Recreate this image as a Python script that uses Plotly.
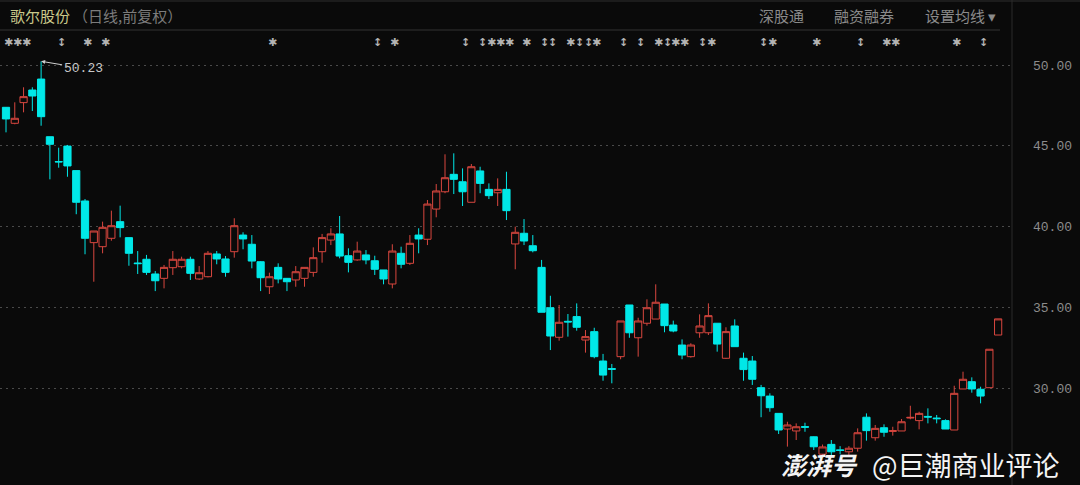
import plotly.graph_objects as go

# ---------------- data ----------------
opens = [47.38, 46.39, 47.67, 48.45, 49.13, 45.56, 44.02, 44.98, 43.46, 41.58,
         39.00, 38.75, 39.27, 40.30, 39.31, 37.74, 37.97, 37.06, 36.79, 37.45,
         37.51, 37.97, 36.75, 36.89, 38.30, 37.99, 38.44, 39.47, 38.90, 37.82,
         36.27, 37.47, 36.79, 36.69, 36.79, 37.16, 38.44, 39.16, 39.54, 38.19,
         37.93, 38.24, 37.88, 37.31, 36.44, 38.34, 37.72, 39.47, 39.21, 41.08,
         42.15, 43.23, 42.77, 41.50, 43.44, 42.30, 42.09, 42.30, 38.92, 39.58,
         38.81, 37.47, 34.97, 33.14, 34.13, 34.42, 32.97, 33.49, 31.67, 31.20,
         31.94, 35.14, 33.11, 34.01, 34.27, 35.20, 33.90, 32.66, 31.94, 33.42,
         33.42, 34.01, 31.84, 33.84, 31.84, 31.67, 30.02, 29.50, 28.43, 27.46,
         27.34, 27.61, 26.98, 25.90, 26.51, 26.17, 26.05, 26.27, 28.19, 26.92,
         27.54, 27.31, 27.34, 28.14, 27.98, 28.24, 28.14, 27.98, 27.40, 29.94,
         30.39, 29.92, 30.02, 33.28]
highs = [47.40, 47.69, 48.62, 48.62, 50.23, 45.56, 44.88, 45.05, 43.46, 41.70,
         39.72, 40.30, 40.98, 41.29, 39.31, 38.48, 38.24, 37.24, 37.62, 38.48,
         38.13, 38.13, 37.55, 38.48, 38.48, 38.17, 40.51, 39.64, 39.47, 37.85,
         37.14, 37.72, 36.79, 37.55, 37.47, 38.71, 39.54, 39.89, 40.65, 38.65,
         39.06, 38.54, 38.19, 37.31, 38.90, 38.75, 39.47, 39.89, 41.64, 42.63,
         44.47, 44.53, 43.60, 43.87, 43.70, 42.67, 42.98, 43.39, 39.99, 40.46,
         39.47, 37.93, 35.71, 35.14, 34.58, 35.24, 33.59, 33.73, 32.11, 31.49,
         34.15, 35.14, 34.35, 35.49, 36.42, 35.20, 34.17, 33.01, 32.77, 34.56,
         35.24, 34.01, 33.76, 34.25, 32.19, 31.98, 30.19, 29.67, 28.43, 27.91,
         27.81, 27.85, 27.00, 26.50, 26.78, 26.40, 26.40, 27.50, 28.43, 27.71,
         27.75, 27.60, 28.08, 28.90, 28.53, 28.74, 28.33, 28.06, 30.14, 31.01,
         30.66, 30.08, 32.40, 34.28]
lows = [45.83, 46.33, 47.07, 47.15, 46.24, 42.92, 43.64, 43.08, 40.76, 38.28,
        36.58, 38.34, 39.12, 39.33, 37.57, 37.06, 37.00, 36.00, 36.17, 37.00,
        37.41, 36.69, 36.69, 36.85, 37.66, 36.89, 38.07, 38.59, 37.41, 36.00,
        35.82, 36.48, 36.00, 36.27, 36.27, 36.89, 37.76, 38.85, 38.03, 37.16,
        37.88, 37.66, 37.00, 36.42, 36.17, 37.41, 37.62, 38.34, 38.85, 40.57,
        42.06, 42.01, 41.27, 41.50, 42.06, 41.70, 41.27, 40.40, 37.35, 38.85,
        38.40, 34.69, 32.35, 32.93, 33.18, 33.55, 32.19, 31.84, 30.45, 30.29,
        31.78, 33.11, 31.94, 33.86, 34.27, 33.45, 33.45, 31.78, 31.88, 33.11,
        33.28, 32.25, 31.80, 32.56, 30.45, 30.19, 28.19, 28.53, 27.15, 26.37,
        26.78, 27.29, 26.16, 25.70, 25.80, 25.90, 25.85, 26.06, 26.74, 26.74,
        26.98, 27.05, 27.34, 28.06, 27.44, 27.81, 27.81, 27.46, 27.40, 29.94,
        29.71, 29.05, 30.02, 33.28]
closes = [46.66, 46.70, 48.04, 48.08, 46.80, 45.09, 44.00, 43.75, 41.50, 39.27,
          39.72, 39.95, 40.05, 39.93, 38.34, 37.70, 37.16, 36.64, 37.47, 37.97,
          37.97, 37.10, 37.14, 38.34, 37.99, 37.16, 40.05, 39.23, 37.86, 36.83,
          36.89, 36.75, 36.58, 37.20, 37.47, 38.07, 39.31, 39.54, 38.17, 37.78,
          38.48, 37.93, 37.35, 36.75, 38.48, 37.66, 38.96, 39.23, 41.39, 42.20,
          43.02, 42.92, 42.15, 43.70, 42.67, 41.91, 42.30, 40.98, 39.64, 39.10,
          38.50, 34.69, 33.22, 34.07, 34.09, 33.76, 33.18, 31.94, 30.80, 31.16,
          34.15, 33.42, 34.15, 34.97, 35.31, 33.86, 33.53, 32.04, 32.66, 33.84,
          34.48, 32.72, 33.49, 32.56, 31.14, 30.54, 29.52, 28.78, 27.40, 27.71,
          27.60, 27.57, 26.36, 26.35, 26.05, 26.13, 26.27, 27.23, 27.36, 27.50,
          27.26, 27.36, 27.91, 28.18, 28.43, 28.20, 28.10, 27.46, 29.67, 30.54,
          29.94, 29.50, 32.40, 34.28]
days = list(range(1, len(opens) + 1))

y_ticks = [30, 35, 40, 45, 50]
y_tick_labels = ["30.00", "35.00", "40.00", "45.00", "50.00"]

# event markers shown above the candles: (candle index, symbol)
marker_days = [1, 2, 3, 7, 10, 12, 31, 43, 45, 53, 55, 56, 57, 58, 60, 62, 63,
               65, 66, 67, 68, 71, 73, 75, 76, 77, 78, 80, 81, 87, 88, 93, 98,
               101, 102, 109, 112]
marker_syms = ["✱", "✱", "✱", "↕", "✱", "✱", "✱", "↕", "✱", "↕", "↕", "✱", "✱", "✱", "✱", "↕", "↕",
               "✱", "↕", "↕", "✱", "↕", "↕", "✱", "↕", "✱", "✱", "↕", "✱", "↕", "✱", "✱", "↕",
               "✱", "✱", "✱", "↕"]

high_label = "50.23"
high_day = 5

# ---------------- geometry / styling ----------------
W, H = 1080, 485
PLOT_W = 1012
BG = "#0a0a0a"
RED = "#d9473f"
CYAN = "#00e8e8"

def pxx(x):
    return x / PLOT_W

def pyy(y):
    return 1 - y / H

# price <-> pixel: 50.00 at y=65, 16.15 px per unit
y_top = 50 + 65 / 16.15
y_bot = 50 - (H - 65) / 16.15
# candle i at pixel 6 + 8.78*(i-1)
x_left = 1 - 6 / 8.78
x_right = 1 + (PLOT_W - 6) / 8.78

fig = go.Figure()
fig.add_trace(go.Candlestick(
    x=days, open=opens, high=highs, low=lows, close=closes,
    increasing=dict(line=dict(color=RED, width=1), fillcolor=BG),
    decreasing=dict(line=dict(color=CYAN, width=1), fillcolor=CYAN),
    whiskerwidth=0, showlegend=False, hoverinfo="skip",
))

annotations = []
# header
annotations.append(dict(x=pxx(8), y=pyy(16), xref="paper", yref="paper", xanchor="left",
                        yanchor="middle", showarrow=False, text="歌尔股份",
                        font=dict(family="Noto Sans CJK SC", size=15, color="#c9c98a")))
annotations.append(dict(x=pxx(71), y=pyy(16), xref="paper", yref="paper", xanchor="left",
                        yanchor="middle", showarrow=False, text="（日线,前复权）",
                        font=dict(family="Noto Sans CJK SC", size=15, color="#7c7c7c")))
for label, cx in [("深股通", 781), ("融资融券", 864), ("设置均线 ▾", 960)]:
    annotations.append(dict(x=pxx(cx), y=pyy(16), xref="paper", yref="paper", xanchor="center",
                            yanchor="middle", showarrow=False, text=label,
                            font=dict(family="Noto Sans CJK SC", size=15, color="#8a8a8a")))
# event markers
for d, s in zip(marker_days, marker_syms):
    size = 11 if s == "✱" else 11
    annotations.append(dict(x=d + 0.3, y=pyy(42), xref="x", yref="paper", xanchor="center",
                            yanchor="middle", showarrow=False, text="<b>" + s + "</b>",
                            font=dict(family="DejaVu Sans", size=size, color="#b4b4b4")))
# highest price label
annotations.append(dict(x=high_day, y=highs[high_day - 1], xref="x", yref="y",
                        text=high_label, showarrow=True, ax=42, ay=7,
                        arrowhead=2, arrowsize=0.8, arrowwidth=1, arrowcolor="#d0d0d0",
                        font=dict(family="Liberation Mono", size=13, color="#c8c8c8")))
# watermark
annotations.append(dict(x=pxx(819), y=pyy(464), xref="paper", yref="paper", xanchor="center",
                        yanchor="middle", showarrow=False, text="<b><i>澎湃号</i></b>",
                        font=dict(family="Noto Sans CJK SC", size=25, color="#f4f4f4")))
annotations.append(dict(x=pxx(966), y=pyy(464), xref="paper", yref="paper", xanchor="center",
                        yanchor="middle", showarrow=False, text="@巨潮商业评论",
                        font=dict(family="Noto Sans CJK SC", size=27, color="#f4f4f4")))

shapes = [
    dict(type="line", xref="paper", yref="paper", x0=0, x1=pxx(1000), y0=pyy(30), y1=pyy(30),
         line=dict(color="#333333", width=1)),
    dict(type="line", xref="paper", yref="paper", x0=0, x1=pxx(W), y0=pyy(1), y1=pyy(1),
         line=dict(color="#2e2e2e", width=1)),
    dict(type="line", xref="paper", yref="paper", x0=1, x1=1, y0=0, y1=1,
         line=dict(color="#2a2a2a", width=1)),
]

fig.update_layout(
    width=W, height=H,
    margin=dict(l=0, r=W - PLOT_W, t=0, b=0),
    paper_bgcolor=BG, plot_bgcolor=BG,
    boxgap=0.18, boxgroupgap=0,
    annotations=annotations, shapes=shapes,
    xaxis=dict(range=[x_left, x_right], showgrid=False, zeroline=False,
               showticklabels=False, showline=False, rangeslider=dict(visible=False),
               fixedrange=True),
    yaxis=dict(range=[y_bot, y_top], side="right", tickvals=y_ticks, ticktext=y_tick_labels,
               showgrid=True, gridcolor="#4a4a4a", griddash="2px,4px", gridwidth=1,
               zeroline=False, showline=False, ticks="", ticklabelstandoff=20,
               tickfont=dict(family="Liberation Mono", size=13, color="#8c8c8c"),
               fixedrange=True),
)

fig.write_html(
    "out.html",
    config={"displayModeBar": False, "staticPlot": True},
    post_script="document.body.style.margin='0';document.body.style.background='#0a0a0a';"
                "document.body.style.overflow='hidden';",
)
